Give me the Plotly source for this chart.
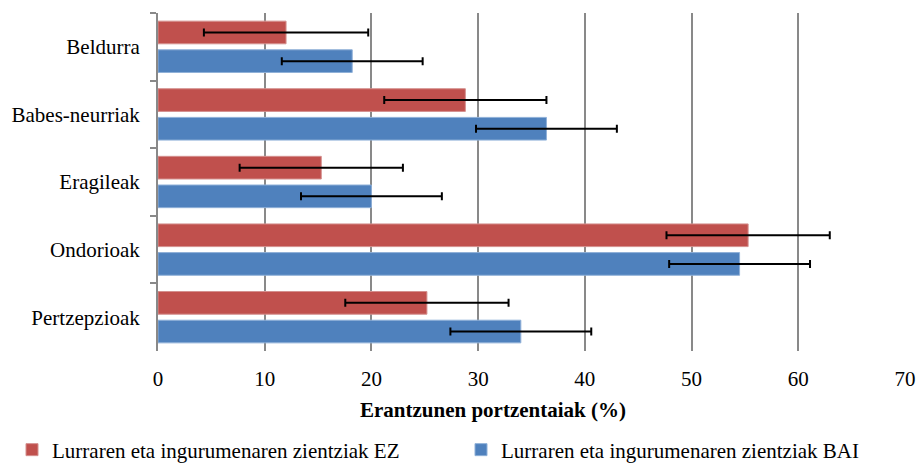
import plotly.graph_objects as go

categories = ["Beldurra", "Babes-neurriak", "Eragileak", "Ondorioak", "Pertzepzioak"]
ez_values = [12.0, 28.8, 15.3, 55.3, 25.2]
ez_errors = [7.7, 7.6, 7.65, 7.65, 7.65]
bai_values = [18.2, 36.4, 20.0, 54.5, 34.0]
bai_errors = [6.6, 6.6, 6.6, 6.6, 6.6]
x_ticks = [0, 10, 20, 30, 40, 50, 60, 70]
series_names = ["Lurraren eta ingurumenaren zientziak EZ", "Lurraren eta ingurumenaren zientziak BAI"]

FONT = "Times New Roman"
FS = 21

L, R, T, B = 158, 13, 13, 112
PW, PH = 918 - L - R, 463 - T - B

def px_x(p):
    return (p - L) / PW

def px_y(p):
    return (463 - B - p) / PH

fig = go.Figure()
fig.add_trace(go.Bar(
    y=categories, x=ez_values, orientation="h", name=series_names[0],
    marker=dict(color="#C0504D", line=dict(color="#D4908E", width=1)),
    error_x=dict(type="data", array=ez_errors, visible=True, color="black", thickness=2, width=4),
    legend="legend", hoverinfo="skip",
))
fig.add_trace(go.Bar(
    y=categories, x=bai_values, orientation="h", name=series_names[1],
    marker=dict(color="#4F81BD", line=dict(color="#8FB0D8", width=1)),
    error_x=dict(type="data", array=bai_errors, visible=True, color="black", thickness=2, width=4),
    legend="legend2", hoverinfo="skip",
))

leg_common = dict(orientation="h", xanchor="left", yanchor="middle",
                  font=dict(family=FONT, size=FS, color="black"),
                  itemwidth=30, bgcolor="rgba(0,0,0,0)")

fig.update_layout(
    width=918, height=463,
    margin=dict(l=L, r=R, t=T, b=B, autoexpand=False),
    barmode="group", bargap=0.152, bargroupgap=0.209,
    plot_bgcolor="white", paper_bgcolor="white",
    font=dict(family=FONT, size=FS, color="black"),
    showlegend=True,
    legend=dict(x=px_x(12), y=px_y(450), **leg_common),
    legend2=dict(x=px_x(461), y=px_y(450), **leg_common),
    annotations=[dict(
        text="<b>Erantzunen portzentaiak (%)</b>", xref="paper", yref="paper",
        x=px_x(493), y=px_y(410), xanchor="center", yanchor="middle",
        showarrow=False, font=dict(family=FONT, size=FS, color="black"),
    )],
)

fig.update_xaxes(
    range=[0, 70], tickvals=x_ticks, ticktext=[str(v) for v in x_ticks],
    showgrid=True, gridcolor="#898989", gridwidth=2,
    zeroline=False, showline=False, ticks="",
    tickfont=dict(family=FONT, size=FS), ticklabelstandoff=13,
)
fig.update_yaxes(
    autorange="reversed", type="category",
    showline=True, linecolor="#898989", linewidth=2,
    ticks="outside", tickson="boundaries", ticklen=6, tickcolor="#898989", tickwidth=2,
    showgrid=False, ticklabelstandoff=12,
    tickfont=dict(family=FONT, size=FS),
)

fig.write_html("out.html", config={"displayModeBar": False},
               post_script="document.body.style.margin='0';document.body.style.padding='0';")
